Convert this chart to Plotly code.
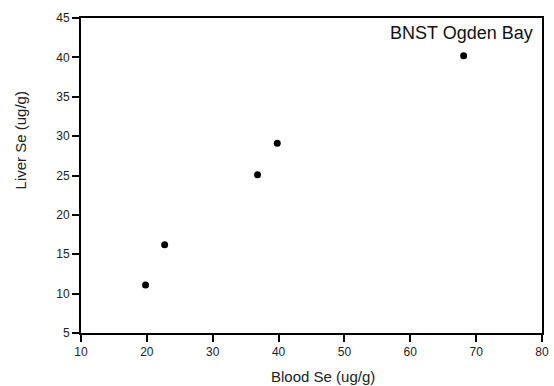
import plotly.graph_objects as go

blood_se = [19.8, 22.7, 36.8, 39.8, 68.1]
liver_se = [11.1, 16.2, 25.1, 29.1, 40.2]
site_label = "BNST Ogden Bay"
x_title = "Blood Se (ug/g)"
y_title = "Liver Se (ug/g)"
x_ticks = [10, 20, 30, 40, 50, 60, 70, 80]
y_ticks = [5, 10, 15, 20, 25, 30, 35, 40, 45]

fig = go.Figure()
fig.add_trace(go.Scatter(
    x=blood_se, y=liver_se, mode="markers",
    marker=dict(symbol="circle", size=7, color="black"),
    showlegend=False,
))

font_family = "Liberation Sans, Arial, sans-serif"
axis_common = dict(
    showline=True, linecolor="black", linewidth=2, mirror=True,
    ticks="outside", ticklen=7, tickwidth=2, tickcolor="black",
    showgrid=False, zeroline=False,
    tickfont=dict(family=font_family, size=12, color="#222"),
)

fig.update_layout(
    width=554, height=386,
    margin=dict(l=81, r=5, t=18, b=53),
    paper_bgcolor="white", plot_bgcolor="white",
    font=dict(family=font_family, color="#222"),
    xaxis=dict(range=[10, 80], tickvals=x_ticks, **axis_common),
    yaxis=dict(range=[5, 45], tickvals=y_ticks, **axis_common),
    annotations=[
        dict(text=site_label, xref="paper", yref="paper", x=0.985, y=0.952,
             xanchor="right", yanchor="middle", showarrow=False,
             font=dict(family=font_family, size=18, color="#111")),
        dict(text=x_title, xref="paper", yref="paper", x=0.524, y=-0.137,
             xanchor="center", yanchor="middle", showarrow=False,
             font=dict(family=font_family, size=15, color="#222")),
        dict(text=y_title, xref="paper", yref="paper", x=-0.131, y=0.61,
             xanchor="center", yanchor="middle", showarrow=False, textangle=-90,
             font=dict(family=font_family, size=15, color="#222")),
    ],
)

fig.write_html(
    "out.html",
    config={"displayModeBar": False},
    post_script="document.body.style.margin='0';document.body.style.padding='0';document.body.style.overflow='hidden';",
)
